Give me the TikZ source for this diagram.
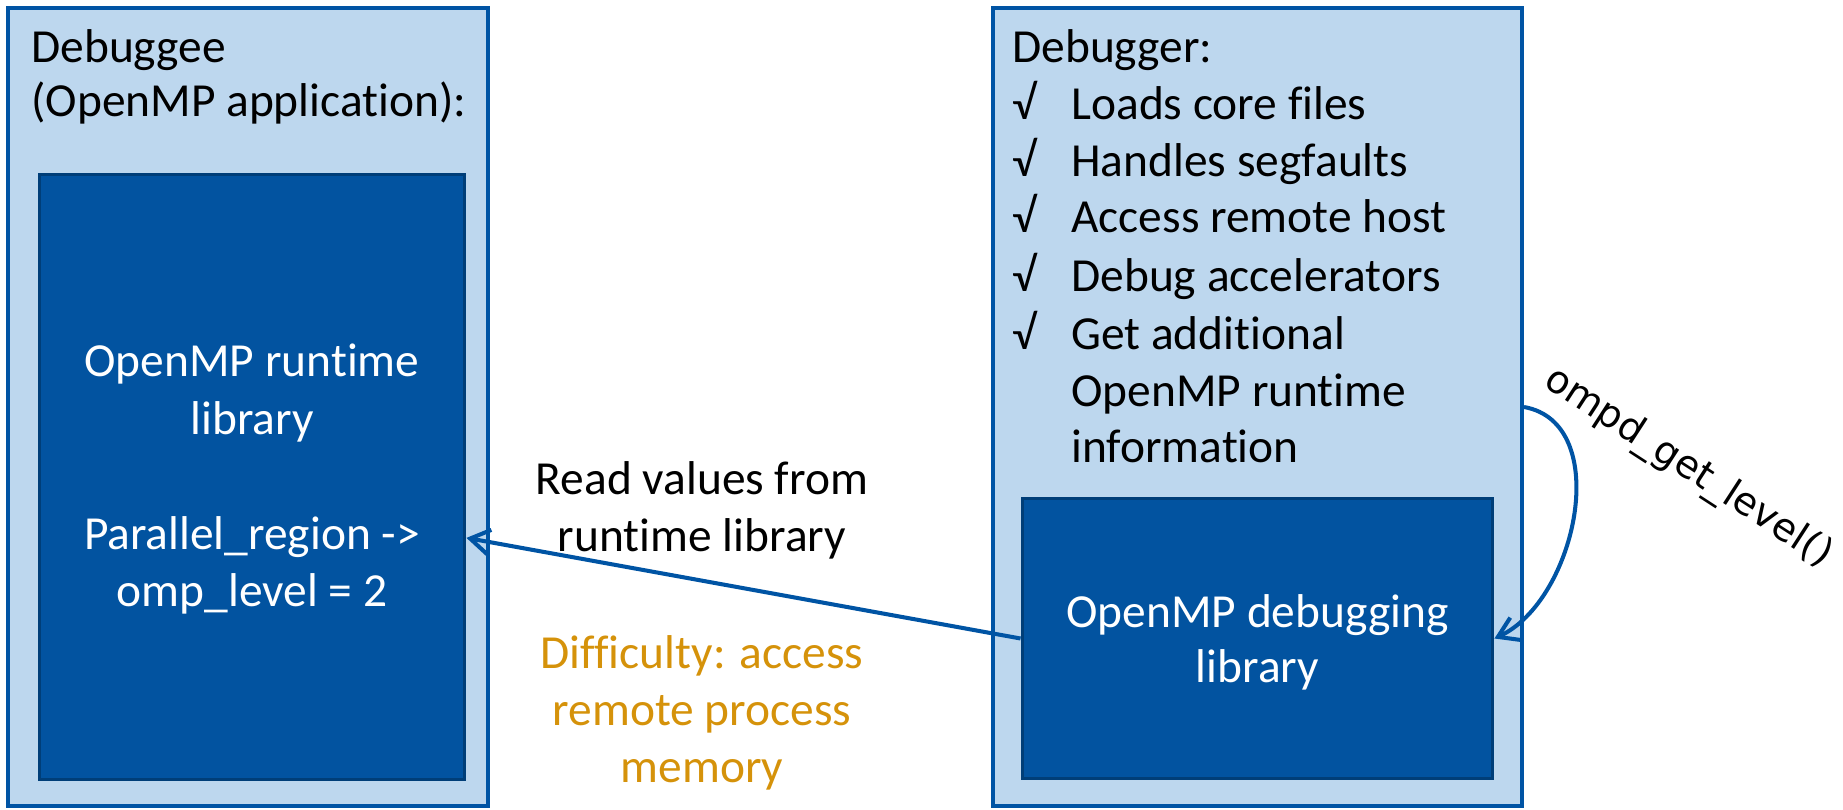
\documentclass[tikz,border=0pt]{standalone}
\usepackage{fontspec}
\setmainfont{Carlito}[Ligatures=NoCommon]
\newfontfamily\dejavu{DejaVu Sans}
\usetikzlibrary{arrows.meta,calc}
\definecolor{boxfill}{RGB}{189,215,238}
\definecolor{boxline}{RGB}{0,84,164}
\definecolor{libfill}{RGB}{2,83,160}
\definecolor{libline}{RGB}{0,62,120}
\definecolor{hardtext}{RGB}{213,146,10}
\begin{document}
\begin{tikzpicture}[x=0.02cm, y=-0.02cm,
  outerbox/.style={draw=boxline, fill=boxfill, line width=2.3pt, minimum height=15.96cm},
  libbox/.style={draw=libline, fill=libfill, line width=1.7pt},
  txt/.style={inner sep=0pt, font=\fontsize{27}{32}\selectfont},
  ltxt/.style={txt, anchor=base west},
  ctxt/.style={txt, anchor=base},
  wtxt/.style={ctxt, text=white},
  flow/.style={-{Straight Barb[length=11pt,width=14pt]}, draw=boxline, line width=2.3pt}]
  \useasboundingbox (0,0) rectangle (1843,810);
  % the two processes
  \node[outerbox, minimum width=9.6cm] (debuggee) at (248,407) {};
  \node[outerbox, minimum width=10.58cm] (debugger) at (1257.5,407) {};
  \node[libbox, minimum width=8.52cm, minimum height=12.12cm] (rtlib) at (252,477) {};
  \node[libbox, minimum width=9.42cm, minimum height=5.62cm] (dbglib) at (1257.5,638.5) {};
  % debuggee side
  \node[ltxt] (ee1) at (31,63) {Debuggee};
  \node[ltxt] (ee2) at (31,117) {(OpenMP application):};
  \node[wtxt] (rt1) at (252,377) {OpenMP runtime};
  \node[wtxt] (rt2) at (252,435) {library};
  \node[wtxt] (rt3) at (252,550) {Parallel\_region ->};
  \node[wtxt] (rt4) at (252,607) {omp\_level = 2};
  % debugger side
  \node[ltxt] (er0) at (1012,63) {Debugger:};
  \node[ltxt] (ck1) at (1012,120) {√};
  \node[ltxt] (er1) at (1071,120) {Loads core files};
  \node[ltxt] (ck2) at (1012,177) {√};
  \node[ltxt] (er2) at (1071,177) {Handles segfaults};
  \node[ltxt] (ck3) at (1012,233) {√};
  \node[ltxt] (er3) at (1071,233) {Access remote host};
  \node[ltxt] (ck4) at (1012,292) {√};
  \node[ltxt] (er4) at (1071,292) {Debug accelerators};
  \node[ltxt] (ck5) at (1012,350) {√};
  \node[ltxt] (er5) at (1071,350) {Get additional};
  \node[ltxt] (er6) at (1071,407) {OpenMP runtime};
  \node[ltxt] (er7) at (1071,463) {information};
  \node[wtxt] (dl1) at (1257.5,627) {OpenMP debugging};
  \node[wtxt] (dl2) at (1257.5,683) {library};
  % between them
  \node[ctxt] (rd1) at (702,495) {Read values from};
  \node[ctxt] (rd2) at (702,552) {runtime library};
  \node[ctxt, text=hardtext] (df1) at (702,668) {Difficulty: access};
  \node[ctxt, text=hardtext] (df2) at (702,725) {remote process};
  \node[ctxt, text=hardtext] (df3) at (702,782) {memory};
  \draw[flow] (dbglib.west) -- ($(rtlib.north east)!0.6!(rtlib.south east)$);
  \draw[flow] (debugger.east) .. controls +(90,16) and +(82,-38) .. (dbglib.east);
  \node[inner sep=0pt, rotate=-33, font=\dejavu\fontsize{22}{26}\selectfont] (call) at (1688,468) {ompd\_get\_level()};
\end{tikzpicture}
\end{document}
